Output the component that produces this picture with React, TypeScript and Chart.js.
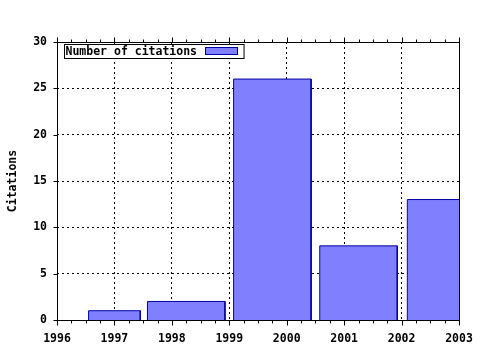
import { useEffect, useRef } from 'react';
import { Chart, registerables } from 'chart.js';

Chart.register(...registerables);

// ---- data ----
const years = [1997, 1998, 2000, 2001, 2003];
const citations = [1, 2, 26, 8, 13];
const seriesLabel = 'Number of citations';
const yAxisTitle = 'Citations';
const xRange = [1996, 2003];
const yRange = [0, 30];
const xStep = 1;
const yStep = 5;
const xMinorStep = 0.25;

// ---- style ----
const FILL = '#8080ff';
const EDGE = '#0000a0';
const FONT = { family: '"DejaVu Sans Mono", monospace', size: 11.5, weight: 'bold' as const };
const BOX_REL = 0.9;

// gnuplot-style box edges (boxes reach halfway to neighbours, scaled by relative width)
function boxEdges(xs: number[], rel: number): [number, number][] {
  return xs.map((x, i) => {
    const left = i > 0 ? (xs[i - 1] + x) / 2 : x - (xs[i + 1] - x) / 2;
    const right = i < xs.length - 1 ? (x + xs[i + 1]) / 2 : x + (x - xs[i - 1]) / 2;
    const c = (left + right) / 2;
    const w = (right - left) * rel;
    return [c - w / 2, c + w / 2];
  });
}

const framePlugin = {
  id: 'frame',
  afterDatasetsDraw(chart: any) {
    const { ctx, chartArea: a, scales } = chart;
    const xs = scales.x;
    const ys = scales.y;
    const L = Math.round(a.left) + 0.5;
    const R = Math.round(a.right) + 0.5;
    const T = Math.round(a.top) + 0.5;
    const B = Math.round(a.bottom) + 0.5;
    ctx.save();
    ctx.strokeStyle = '#000';
    ctx.lineWidth = 1;
    ctx.setLineDash([]);
    ctx.strokeRect(L, T, R - L, B - T);
    ctx.beginPath();
    // x ticks (bottom + top, outward)
    for (let v = xRange[0]; v <= xRange[1] + 1e-9; v += xMinorStep) {
      const major = Math.abs(v - Math.round(v)) < 1e-9;
      const len = major ? 5 : 3;
      const px = Math.round(xs.getPixelForValue(v)) + 0.5;
      ctx.moveTo(px, B);
      ctx.lineTo(px, B + len);
      ctx.moveTo(px, T);
      ctx.lineTo(px, T - len);
    }
    // y ticks (left, outward)
    for (let v = yRange[0]; v <= yRange[1]; v += yStep) {
      const py = Math.round(ys.getPixelForValue(v)) + 0.5;
      ctx.moveTo(L, py);
      ctx.lineTo(L - 4, py);
    }
    ctx.stroke();
    ctx.restore();
  },
  afterDraw(chart: any) {
    const { ctx, chartArea: a } = chart;
    const x0 = Math.round(a.left) + 7.5;
    const y0 = Math.round(a.top) + 2.5;
    ctx.save();
    ctx.font = `bold ${FONT.size}px ${FONT.family}`;
    const tw = ctx.measureText(seriesLabel).width;
    const sampleGap = 8;
    const sampleW = 32;
    const w = 1 + tw + sampleGap + sampleW + 7;
    const h = 14;
    ctx.fillStyle = '#fff';
    ctx.fillRect(x0, y0, w, h);
    ctx.strokeStyle = '#000';
    ctx.lineWidth = 1;
    ctx.strokeRect(x0, y0, w, h);
    ctx.fillStyle = '#000';
    ctx.textBaseline = 'middle';
    ctx.textAlign = 'left';
    ctx.fillText(seriesLabel, x0 + 1, y0 + h / 2 + 0.5);
    const sx = Math.round(x0 + 1 + tw + sampleGap) + 0.5;
    ctx.fillStyle = FILL;
    ctx.fillRect(sx, y0 + 3, sampleW, 7);
    ctx.strokeStyle = EDGE;
    ctx.strokeRect(sx, y0 + 3, sampleW, 7);
    ctx.restore();
  },
};

export default function App() {
  const ref = useRef<HTMLCanvasElement>(null);
  useEffect(() => {
    if (!ref.current) return;
    Chart.defaults.color = '#000';
    const edges = boxEdges(years, BOX_REL);
    const datasets = edges.map(([l, r], i) => ({
      label: seriesLabel,
      data: [
        { x: l, y: 0 },
        { x: l, y: citations[i] },
        { x: r, y: citations[i] },
        { x: r, y: 0 },
      ],
      borderColor: EDGE,
      backgroundColor: FILL,
      borderWidth: 1,
      fill: 'origin',
      pointRadius: 0,
      tension: 0,
    }));
    const chart = new Chart(ref.current, {
      type: 'line',
      data: { datasets: datasets as any },
      options: {
        animation: false,
        responsive: false,
        layout: { padding: { top: 42, right: 21, left: 0, bottom: 0 } },
        plugins: { legend: { display: false }, tooltip: { enabled: false } },
        scales: {
          x: {
            type: 'linear',
            min: xRange[0],
            max: xRange[1],
            ticks: { stepSize: xStep, font: FONT, color: '#000', padding: 12, maxRotation: 0, callback: (v: any) => String(v) },
            grid: { color: '#000', lineWidth: 1, drawTicks: false },
            border: { display: false, dash: [2, 3] },
            afterFit: (s: any) => { s.height = 30; s.paddingLeft = 0; s.paddingRight = 0; },
          },
          y: {
            type: 'linear',
            min: yRange[0],
            max: yRange[1],
            ticks: { stepSize: yStep, font: FONT, color: '#000', padding: 10 },
            grid: { color: '#000', lineWidth: 1, drawTicks: false },
            border: { display: false, dash: [2, 3] },
            title: { display: true, text: yAxisTitle, font: FONT, color: '#000', padding: { top: 6, bottom: 0 } },
            afterFit: (s: any) => { s.width = 57; s.paddingTop = 0; s.paddingBottom = 0; },
          },
        },
      },
      plugins: [framePlugin],
    });
    return () => chart.destroy();
  }, []);
  return (
    <div style={{ position: 'fixed', left: 0, top: 0, width: 480, height: 350, background: '#fff' }}>
      <canvas ref={ref} width={480} height={350} />
    </div>
  );
}
